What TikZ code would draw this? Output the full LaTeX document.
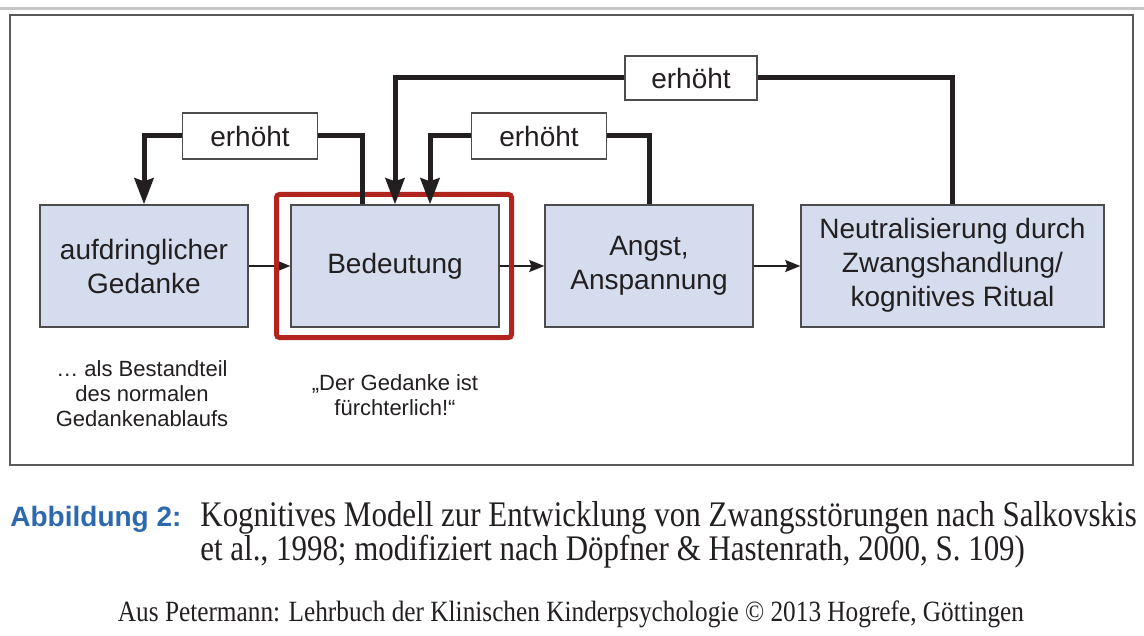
\documentclass[tikz,border=0pt]{standalone}
\usepackage{fontspec}
\setmainfont{Liberation Sans}
\newfontfamily\capserif[FakeStretch=0.86]{Liberation Serif}
\usepackage{xcolor}
\usetikzlibrary{arrows.meta,calc}

\definecolor{boxblue}{RGB}{213,220,238}
\definecolor{hlred}{RGB}{178,36,30}
\definecolor{capblue}{RGB}{45,105,175}
\definecolor{ink}{RGB}{35,31,32}

\begin{document}
\begin{tikzpicture}[x=0.5pt, y=-0.5pt,
    every node/.style={text=ink},
    box/.style={draw=black!70, fill=boxblue, line width=0.7pt, minimum width=104pt,
        minimum height=61pt, inner sep=0pt, align=center, font=\fontsize{14}{17}\selectfont},
    tag/.style={draw=black!70, fill=white, line width=0.6pt, minimum width=67.5pt,
        minimum height=23pt, inner sep=0pt, font=\fontsize{14}{17}\selectfont},
    flow/.style={line width=0.75pt, ink, -{Stealth[length=7.5pt,width=6pt,inset=1pt]}},
    feedback/.style={line width=2.5pt, ink},
    feedarrow/.style={feedback, -{Stealth[length=13pt,width=9.5pt,inset=1.5pt]}},
    note/.style={align=center, font=\fontsize{11}{12.5}\selectfont}]

    \useasboundingbox (0,0) rectangle (1144,636);

    % Page edge and frame
    \draw[gray!45, line width=1.5pt] (0,9) -- (1144,9);
    \draw[black!65, line width=1pt] (10,15) rectangle (1133,465);

    % Boxes
    \node[box] (gedanke) at (144,266) {aufdringlicher\\Gedanke};
    \node[box] (bedeutung) at (395,266) {\raisebox{-3pt}{Bedeutung}};
    \node[box] (angst) at (649,266) {Angst,\\Anspannung};
    \node[box, minimum width=151.5pt] (neutral) at (952.5,266) {\raisebox{-3pt}{\begin{tabular}{@{}c@{}}Neutralisierung durch\\Zwangshandlung/\\kognitives Ritual\end{tabular}}};

    % Arrows between boxes
    \draw[flow] (gedanke) -- (bedeutung);
    \draw[flow] (bedeutung) -- (angst);
    \draw[flow] (angst) -- (neutral);

    % Highlight
    \node[draw=hlred, line width=2.5pt, rounded corners=1.5pt, minimum width=117.5pt,
        minimum height=71.5pt] (mark) at (394,266) {};

    % Labels on loops
    \node[tag] (tag1) at (250,136) {erhöht};
    \node[tag] (tag2) at (539,136) {erhöht};
    \node[tag, minimum width=66pt, minimum height=22pt] (tag3) at (691,78) {erhöht};

    % Feedback loops
    \coordinate (out1) at ($(bedeutung.north)+(-33,0)$);
    \coordinate (in2) at ($(bedeutung.north)+(35,0)$);
    \draw[feedback] (out1) |- (tag1.east);
    \draw[feedarrow] (tag1.west) -| (gedanke.north);
    \draw[feedback] (angst.north) |- (tag2.east);
    \draw[feedarrow] (tag2.west) -| (in2);
    \draw[feedback] (neutral.north) |- (tag3.east);
    \draw[feedarrow] (tag3.west) -| (bedeutung.north);

    % Notes below
    \node[note] (note1) at (142,394) {… als Bestandteil\\des normalen\\Gedankenablaufs};
    \node[note] (note2) at (395,395) {„Der Gedanke ist\\fürchterlich!“};

    % Caption
    \node[anchor=base west, inner sep=0pt, text=capblue, font=\bfseries\fontsize{14}{17}\selectfont] (abb) at (10,526) {Abbildung 2:};
    \node[anchor=base west, inner sep=0pt, font=\capserif\fontsize{18}{21}\selectfont] (cap1) at (200,526) {Kognitives Modell zur Entwicklung von Zwangsstörungen nach Salkovskis};
    \node[anchor=base west, inner sep=0pt, font=\capserif\fontsize{18}{21}\selectfont] (cap2) at (200,560) {et al., 1998; modifiziert nach Döpfner \& Hastenrath, 2000, S. 109)};
    \node[anchor=base, inner sep=0pt, font=\capserif\fontsize{14.7}{17}\selectfont] (source) at (571,621) {Aus Petermann: Lehrbuch der Klinischen Kinderpsychologie © 2013 Hogrefe, Göttingen};
\end{tikzpicture}
\end{document}
